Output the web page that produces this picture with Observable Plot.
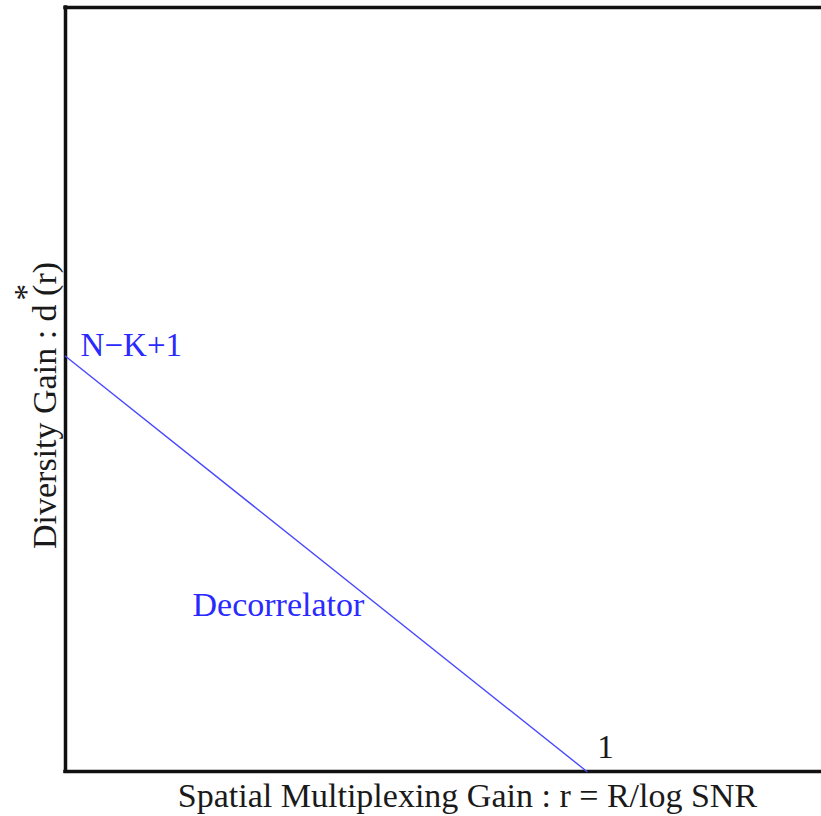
<!DOCTYPE html>
<html>
<head>
<meta charset="utf-8">
<script src="https://cdn.jsdelivr.net/npm/d3@7"></script>
<script src="https://cdn.jsdelivr.net/npm/@observablehq/plot@0.6"></script>
<style>
  html, body { margin: 0; padding: 0; background: #fff; }
  svg text { font-family: 'Liberation Serif', 'Times New Roman', serif !important; }
</style>
</head>
<body>
<div id="chart"></div>
<script>
// Data (normalized: diversity gain N−K+1 → 1 at r = 0, and 0 at r = 1)
const curveR = [0, 1];
const curveD = [1, 0];
const xMax = 1.45;
const yMax = 1.84;

const annotations = ["N\u2212K+1", "Decorrelator", "1"];
const annotX = [0.029, 0.2436, 1.02];
const annotY = [1.0, 0.3757, 0.033];
const annotColor = ["#2a2aff", "#2a2aff", "#1a1a1a"];
const annotSize = [33, 34, 33];

const xLabel = "Spatial Multiplexing Gain : r = R/log SNR";
const yLabel = "Diversity Gain : d (r)";
const yLabelStar = "*";

const curve = curveR.map((r, i) => ({r, d: curveD[i]}));
const notes = annotations.map((t, i) => ({t, x: annotX[i], y: annotY[i], c: annotColor[i], s: annotSize[i]}));

const font = "'Liberation Serif', 'Times New Roman', serif";

const chart = Plot.plot({
  width: 821,
  height: 816,
  marginLeft: 65,
  marginRight: 0,
  marginTop: 7,
  marginBottom: 45,
  style: {fontFamily: font, background: "#fff", overflow: "visible"},
  x: {domain: [0, xMax], axis: null},
  y: {domain: [0, yMax], axis: null},
  marks: [
    Plot.ruleY([0, yMax], {stroke: "#111", strokeWidth: 3.5, strokeLinecap: "square"}),
    Plot.ruleX([0], {stroke: "#111", strokeWidth: 3.5, strokeLinecap: "square"}),
    Plot.line(curve, {x: "r", y: "d", stroke: "#4a4aff", strokeWidth: 1.4}),
    Plot.text(notes, {x: "x", y: "y", text: "t", textAnchor: "start", lineAnchor: "bottom",
      fill: d => d.c, fontSize: d => d.s, fontFamily: font}),
    Plot.text([xLabel], {x: [0.771], frameAnchor: "bottom", dy: 35, textAnchor: "middle",
      lineAnchor: "bottom", fill: "#1a1a1a", fontSize: 34, fontFamily: font}),
    Plot.text([yLabel], {y: [0.8815], frameAnchor: "left", dx: -10, rotate: -90,
      textAnchor: "middle", lineAnchor: "bottom", fill: "#1a1a1a", fontSize: 34, fontFamily: font}),
    Plot.text([yLabelStar], {y: [1.154], frameAnchor: "left", dx: -29, rotate: -90,
      textAnchor: "middle", lineAnchor: "bottom", fill: "#1a1a1a", fontSize: 34, fontFamily: font})
  ]
});
document.getElementById("chart").appendChild(chart);
</script>
</body>
</html>
